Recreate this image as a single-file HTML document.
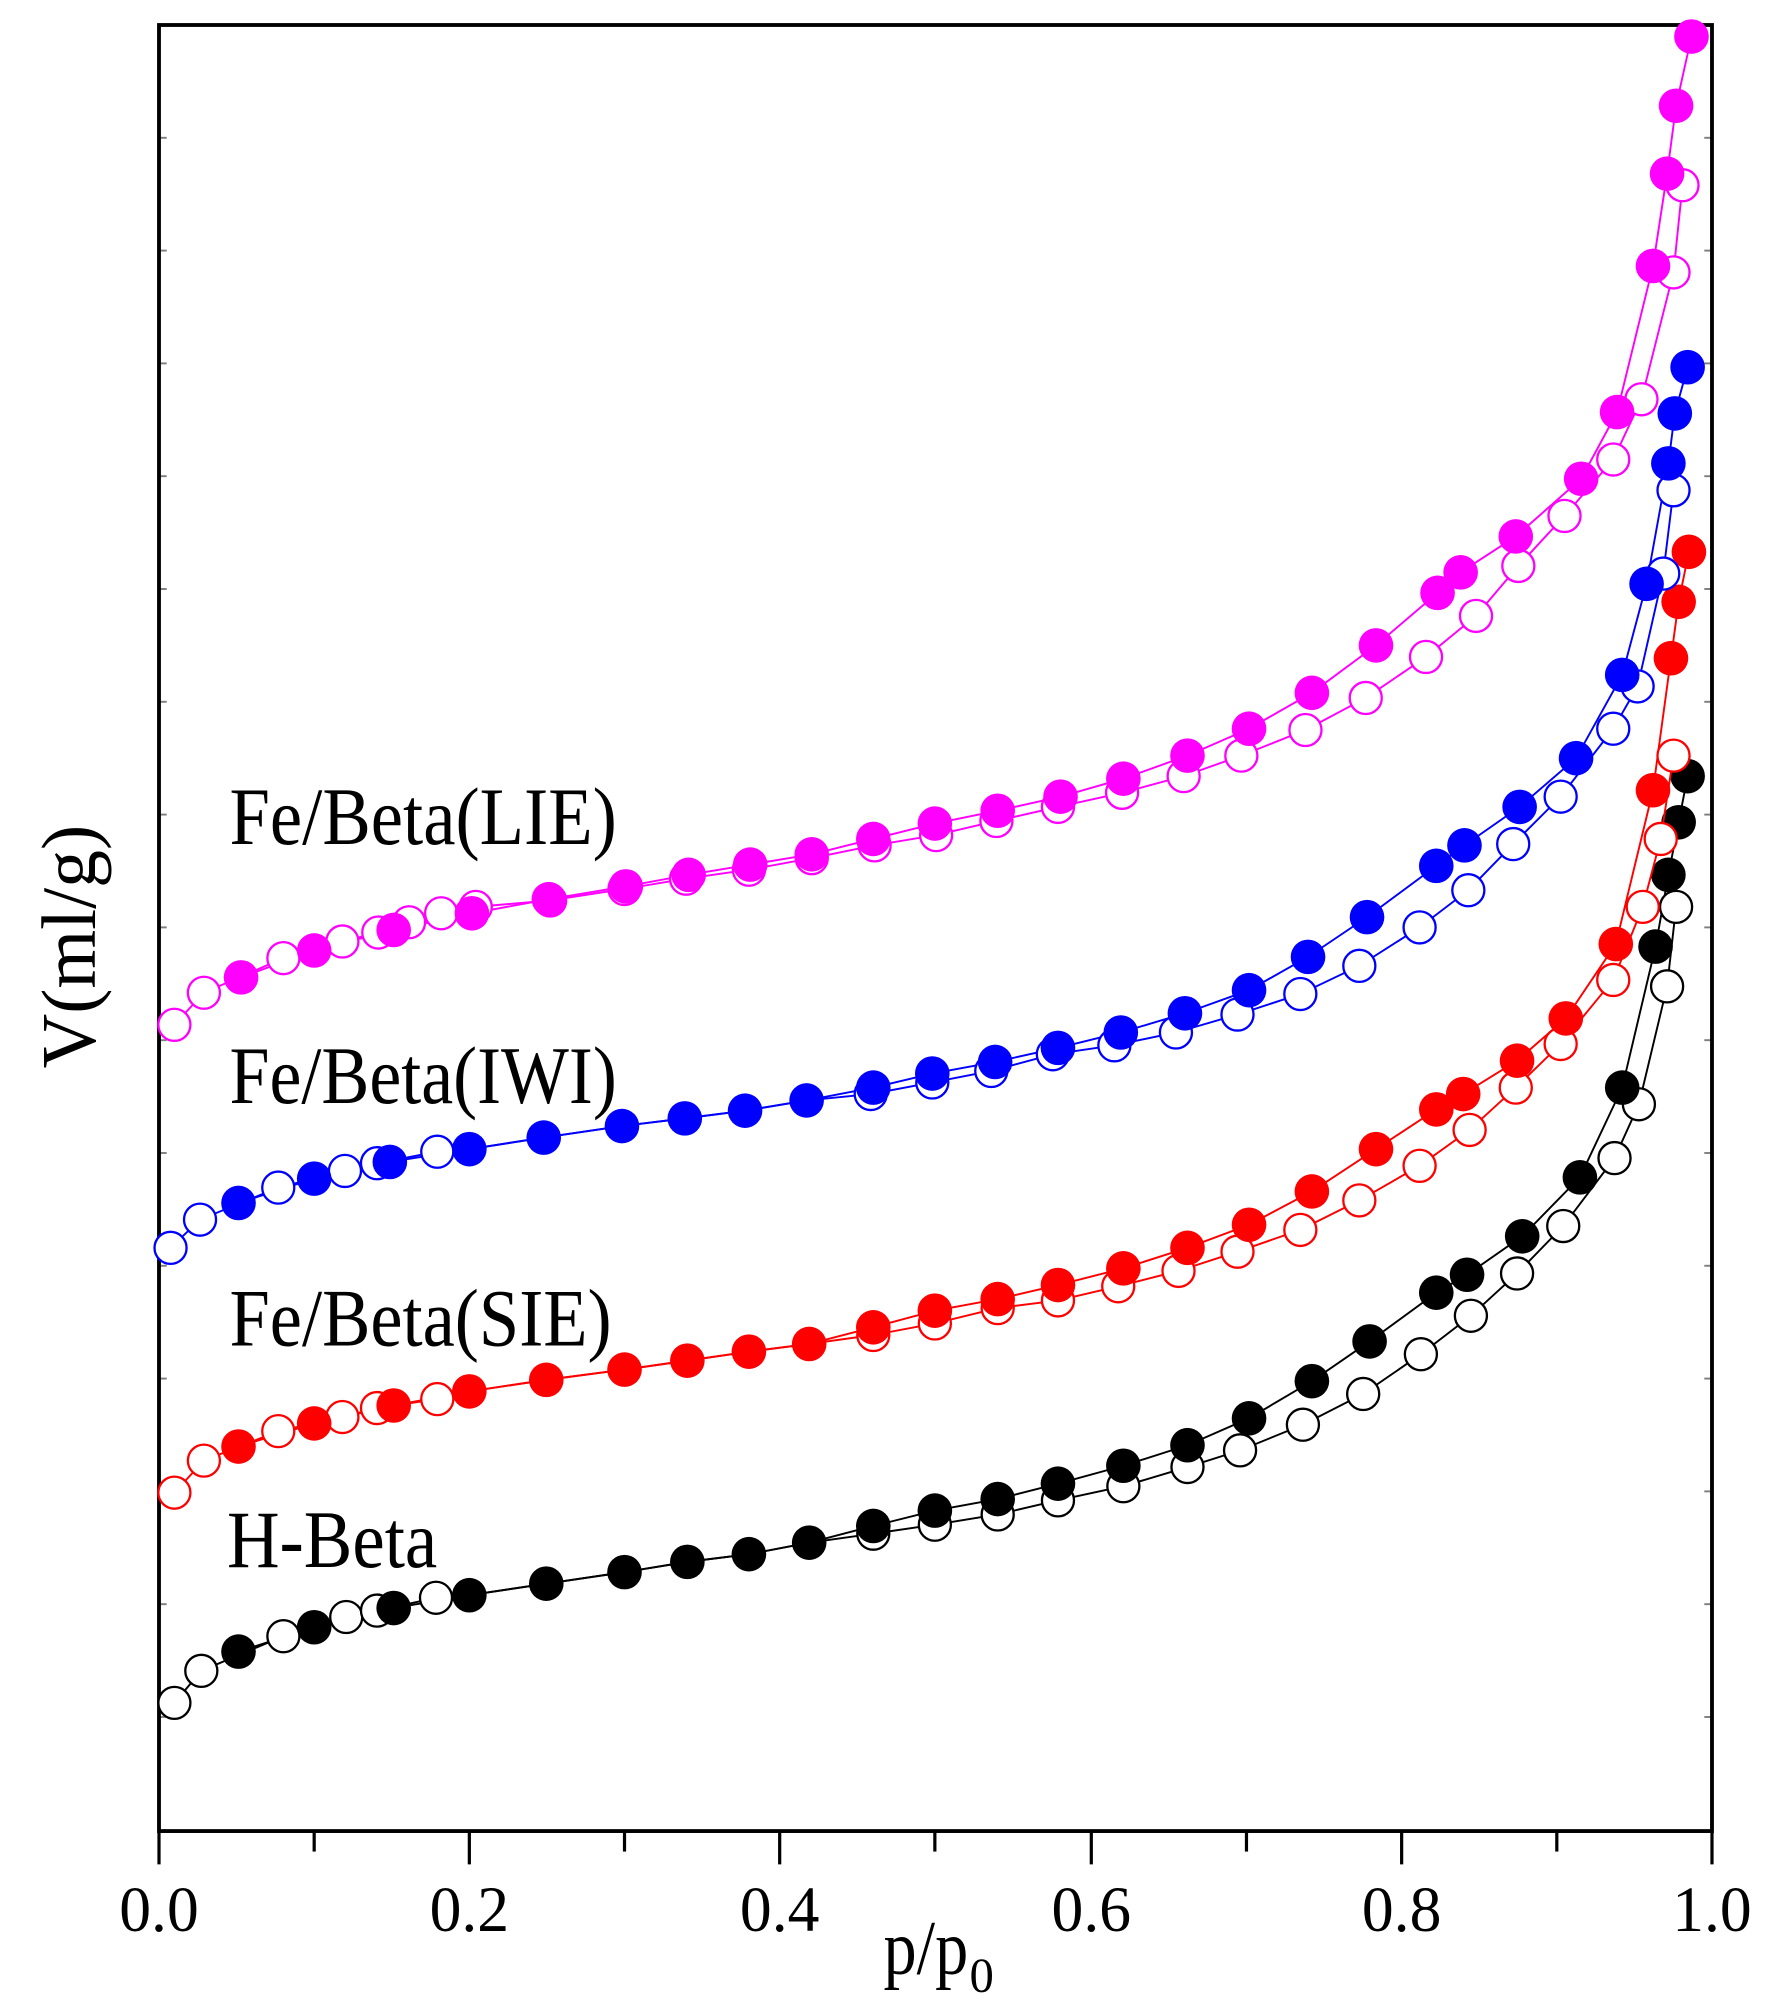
<!DOCTYPE html>
<html><head><meta charset="utf-8"><style>html,body{margin:0;padding:0;background:#fff}svg{display:block}</style></head>
<body>
<svg width="1768" height="2010" viewBox="0 0 1768 2010" xmlns="http://www.w3.org/2000/svg">
<g transform="translate(159,25) scale(1.2824,1.2818) translate(-125,-18)" font-family="'Liberation Serif',serif">
<rect x="125" y="18" width="1211" height="1409" fill="none" stroke="#000" stroke-width="3"/>
<g stroke="#000" stroke-width="2.5">
<line x1="125" y1="1427" x2="125" y2="1453"/><line x1="367" y1="1427" x2="367" y2="1453"/><line x1="609" y1="1427" x2="609" y2="1453"/><line x1="852" y1="1427" x2="852" y2="1453"/><line x1="1094" y1="1427" x2="1094" y2="1453"/><line x1="1336" y1="1427" x2="1336" y2="1453"/>
<line x1="246" y1="1427" x2="246" y2="1443"/><line x1="488" y1="1427" x2="488" y2="1443"/><line x1="730" y1="1427" x2="730" y2="1443"/><line x1="973" y1="1427" x2="973" y2="1443"/><line x1="1215" y1="1427" x2="1215" y2="1443"/>
</g>
<g stroke="#000" stroke-width="1.5" opacity="0.5">
<line x1="1336" y1="106" x2="1330" y2="106"/><line x1="1336" y1="194" x2="1330" y2="194"/><line x1="1336" y1="282" x2="1330" y2="282"/><line x1="1336" y1="370" x2="1330" y2="370"/><line x1="1336" y1="458" x2="1330" y2="458"/><line x1="1336" y1="546" x2="1330" y2="546"/><line x1="1336" y1="634" x2="1330" y2="634"/><line x1="1336" y1="722" x2="1330" y2="722"/><line x1="1336" y1="810" x2="1330" y2="810"/><line x1="1336" y1="898" x2="1330" y2="898"/><line x1="1336" y1="986" x2="1330" y2="986"/><line x1="1336" y1="1074" x2="1330" y2="1074"/><line x1="1336" y1="1162" x2="1330" y2="1162"/><line x1="1336" y1="1250" x2="1330" y2="1250"/><line x1="1336" y1="1338" x2="1330" y2="1338"/>
<line x1="125" y1="106" x2="131" y2="106"/><line x1="125" y1="194" x2="131" y2="194"/><line x1="125" y1="282" x2="131" y2="282"/><line x1="125" y1="370" x2="131" y2="370"/><line x1="125" y1="458" x2="131" y2="458"/><line x1="125" y1="546" x2="131" y2="546"/><line x1="125" y1="634" x2="131" y2="634"/><line x1="125" y1="722" x2="131" y2="722"/><line x1="125" y1="810" x2="131" y2="810"/><line x1="125" y1="898" x2="131" y2="898"/><line x1="125" y1="986" x2="131" y2="986"/><line x1="125" y1="1074" x2="131" y2="1074"/><line x1="125" y1="1162" x2="131" y2="1162"/><line x1="125" y1="1250" x2="131" y2="1250"/><line x1="125" y1="1338" x2="131" y2="1338"/>
</g>
<g font-size="50" text-anchor="middle" fill="#000">
<text x="125" y="1505" textLength="62" lengthAdjust="spacingAndGlyphs">0.0</text>
<text x="367" y="1505" textLength="62" lengthAdjust="spacingAndGlyphs">0.2</text>
<text x="609" y="1505" textLength="62" lengthAdjust="spacingAndGlyphs">0.4</text>
<text x="852" y="1505" textLength="62" lengthAdjust="spacingAndGlyphs">0.6</text>
<text x="1094" y="1505" textLength="62" lengthAdjust="spacingAndGlyphs">0.8</text>
<text x="1336" y="1505" textLength="62" lengthAdjust="spacingAndGlyphs">1.0</text>
</g>
<text x="690" y="1538" font-size="60" fill="#000" textLength="66" lengthAdjust="spacingAndGlyphs">p/p</text>
<text x="757" y="1552" font-size="38" fill="#000">0</text>
<text transform="translate(75,737) rotate(-90)" font-size="60" text-anchor="middle" fill="#000" textLength="190" lengthAdjust="spacingAndGlyphs">V(ml/g)</text>
<g font-size="64" fill="#000">
<text x="180" y="657" textLength="302" lengthAdjust="spacingAndGlyphs">Fe/Beta(LIE)</text>
<text x="180" y="859" textLength="302" lengthAdjust="spacingAndGlyphs">Fe/Beta(IWI)</text>
<text x="180" y="1048" textLength="298" lengthAdjust="spacingAndGlyphs">Fe/Beta(SIE)</text>
<text x="178" y="1221" textLength="164" lengthAdjust="spacingAndGlyphs">H-Beta</text>
</g>

<g stroke="#000" stroke-width="1.5" fill="none">
<polyline points="137,1327 158,1302 222,1275 271,1260 295,1255 341,1245 367,1243 427,1234 488,1225 537,1217 585,1211 632,1202 682,1195 730,1188 779,1180 826,1169 877,1158 927,1143 968,1130 1017,1110 1064,1086 1109,1055 1148,1025 1184,992 1220,955 1260,902 1279,860 1301,768 1308,706"/>
<polyline points="187,1287 246,1268 308,1253 367,1243 427,1234 488,1225 537,1217 585,1211 632,1202 682,1189 730,1177 779,1168 826,1156 877,1142 927,1126 975,1105 1024,1076 1069,1045 1121,1007 1145,993 1188,963 1233,917 1266,847 1292,737 1302,681 1310,640 1317,604"/>
</g>
<g stroke="#000" stroke-width="1.8" fill="#fff">
<circle cx="137" cy="1327" r="12.5"/><circle cx="158" cy="1302" r="12.5"/><circle cx="222" cy="1275" r="12.5"/><circle cx="271" cy="1260" r="12.5"/><circle cx="295" cy="1255" r="12.5"/><circle cx="341" cy="1245" r="12.5"/><circle cx="682" cy="1195" r="12.5"/><circle cx="730" cy="1188" r="12.5"/><circle cx="779" cy="1180" r="12.5"/><circle cx="826" cy="1169" r="12.5"/><circle cx="877" cy="1158" r="12.5"/><circle cx="927" cy="1143" r="12.5"/><circle cx="968" cy="1130" r="12.5"/><circle cx="1017" cy="1110" r="12.5"/><circle cx="1064" cy="1086" r="12.5"/><circle cx="1109" cy="1055" r="12.5"/><circle cx="1148" cy="1025" r="12.5"/><circle cx="1184" cy="992" r="12.5"/><circle cx="1220" cy="955" r="12.5"/><circle cx="1260" cy="902" r="12.5"/><circle cx="1279" cy="860" r="12.5"/><circle cx="1301" cy="768" r="12.5"/><circle cx="1308" cy="706" r="12.5"/>
</g>
<g fill="#000">
<circle cx="187" cy="1287" r="13.5"/><circle cx="246" cy="1268" r="13.5"/><circle cx="308" cy="1253" r="13.5"/><circle cx="367" cy="1243" r="13.5"/><circle cx="427" cy="1234" r="13.5"/><circle cx="488" cy="1225" r="13.5"/><circle cx="537" cy="1217" r="13.5"/><circle cx="585" cy="1211" r="13.5"/><circle cx="632" cy="1202" r="13.5"/><circle cx="682" cy="1189" r="13.5"/><circle cx="730" cy="1177" r="13.5"/><circle cx="779" cy="1168" r="13.5"/><circle cx="826" cy="1156" r="13.5"/><circle cx="877" cy="1142" r="13.5"/><circle cx="927" cy="1126" r="13.5"/><circle cx="975" cy="1105" r="13.5"/><circle cx="1024" cy="1076" r="13.5"/><circle cx="1069" cy="1045" r="13.5"/><circle cx="1121" cy="1007" r="13.5"/><circle cx="1145" cy="993" r="13.5"/><circle cx="1188" cy="963" r="13.5"/><circle cx="1233" cy="917" r="13.5"/><circle cx="1266" cy="847" r="13.5"/><circle cx="1292" cy="737" r="13.5"/><circle cx="1302" cy="681" r="13.5"/><circle cx="1310" cy="640" r="13.5"/><circle cx="1317" cy="604" r="13.5"/>
</g>

<g stroke="#ff0000" stroke-width="1.5" fill="none">
<polyline points="137,1163 160,1138 218,1115 268,1104 295,1097 342,1090 367,1084 427,1075 488,1067 537,1060 585,1053 632,1047 682,1040 730,1031 779,1019 826,1013 873,1002 920,990 966,975 1015,958 1061,935 1108,908 1147,880 1183,847 1218,813 1259,763 1282,706 1296,653 1306,588"/>
<polyline points="187,1127 246,1109 308,1095 367,1084 427,1075 488,1067 537,1060 585,1053 632,1047 682,1034 730,1021 779,1012 826,1001 877,988 927,972 975,954 1024,928 1074,895 1121,864 1142,852 1184,826 1222,793 1261,735 1290,615 1304,512 1310,468 1318,429"/>
</g>
<g stroke="#ff0000" stroke-width="1.8" fill="#fff">
<circle cx="137" cy="1163" r="12.5"/><circle cx="160" cy="1138" r="12.5"/><circle cx="218" cy="1115" r="12.5"/><circle cx="268" cy="1104" r="12.5"/><circle cx="295" cy="1097" r="12.5"/><circle cx="342" cy="1090" r="12.5"/><circle cx="682" cy="1040" r="12.5"/><circle cx="730" cy="1031" r="12.5"/><circle cx="779" cy="1019" r="12.5"/><circle cx="826" cy="1013" r="12.5"/><circle cx="873" cy="1002" r="12.5"/><circle cx="920" cy="990" r="12.5"/><circle cx="966" cy="975" r="12.5"/><circle cx="1015" cy="958" r="12.5"/><circle cx="1061" cy="935" r="12.5"/><circle cx="1108" cy="908" r="12.5"/><circle cx="1147" cy="880" r="12.5"/><circle cx="1183" cy="847" r="12.5"/><circle cx="1218" cy="813" r="12.5"/><circle cx="1259" cy="763" r="12.5"/><circle cx="1282" cy="706" r="12.5"/><circle cx="1296" cy="653" r="12.5"/><circle cx="1306" cy="588" r="12.5"/>
</g>
<g fill="#ff0000">
<circle cx="187" cy="1127" r="13.5"/><circle cx="246" cy="1109" r="13.5"/><circle cx="308" cy="1095" r="13.5"/><circle cx="367" cy="1084" r="13.5"/><circle cx="427" cy="1075" r="13.5"/><circle cx="488" cy="1067" r="13.5"/><circle cx="537" cy="1060" r="13.5"/><circle cx="585" cy="1053" r="13.5"/><circle cx="632" cy="1047" r="13.5"/><circle cx="682" cy="1034" r="13.5"/><circle cx="730" cy="1021" r="13.5"/><circle cx="779" cy="1012" r="13.5"/><circle cx="826" cy="1001" r="13.5"/><circle cx="877" cy="988" r="13.5"/><circle cx="927" cy="972" r="13.5"/><circle cx="975" cy="954" r="13.5"/><circle cx="1024" cy="928" r="13.5"/><circle cx="1074" cy="895" r="13.5"/><circle cx="1121" cy="864" r="13.5"/><circle cx="1142" cy="852" r="13.5"/><circle cx="1184" cy="826" r="13.5"/><circle cx="1222" cy="793" r="13.5"/><circle cx="1261" cy="735" r="13.5"/><circle cx="1290" cy="615" r="13.5"/><circle cx="1304" cy="512" r="13.5"/><circle cx="1310" cy="468" r="13.5"/><circle cx="1318" cy="429" r="13.5"/>
</g>

<g stroke="#0000ff" stroke-width="1.5" fill="none">
<polyline points="134,972 157,950 218,925 270,912 295,906 342,897 367,895 425,886 486,877 535,871 582,865 630,857 680,852 728,843 774,834 822,821 870,814 918,804 966,790 1015,774 1061,752 1108,722 1146,693 1181,657 1218,620 1259,567 1278,534 1298,446 1306,381"/>
<polyline points="187,937 246,918 305,905 367,895 425,886 486,877 535,871 582,865 630,857 682,847 728,836 777,827 826,816 875,804 925,789 975,771 1021,745 1067,714 1121,674 1143,658 1186,628 1230,590 1266,525 1285,454 1302,360 1307,321 1317,285"/>
</g>
<g stroke="#0000ff" stroke-width="1.8" fill="#fff">
<circle cx="134" cy="972" r="12.5"/><circle cx="157" cy="950" r="12.5"/><circle cx="218" cy="925" r="12.5"/><circle cx="270" cy="912" r="12.5"/><circle cx="295" cy="906" r="12.5"/><circle cx="342" cy="897" r="12.5"/><circle cx="680" cy="852" r="12.5"/><circle cx="728" cy="843" r="12.5"/><circle cx="774" cy="834" r="12.5"/><circle cx="822" cy="821" r="12.5"/><circle cx="870" cy="814" r="12.5"/><circle cx="918" cy="804" r="12.5"/><circle cx="966" cy="790" r="12.5"/><circle cx="1015" cy="774" r="12.5"/><circle cx="1061" cy="752" r="12.5"/><circle cx="1108" cy="722" r="12.5"/><circle cx="1146" cy="693" r="12.5"/><circle cx="1181" cy="657" r="12.5"/><circle cx="1218" cy="620" r="12.5"/><circle cx="1259" cy="567" r="12.5"/><circle cx="1278" cy="534" r="12.5"/><circle cx="1298" cy="446" r="12.5"/><circle cx="1306" cy="381" r="12.5"/>
</g>
<g fill="#0000ff">
<circle cx="187" cy="937" r="13.5"/><circle cx="246" cy="918" r="13.5"/><circle cx="305" cy="905" r="13.5"/><circle cx="367" cy="895" r="13.5"/><circle cx="425" cy="886" r="13.5"/><circle cx="486" cy="877" r="13.5"/><circle cx="535" cy="871" r="13.5"/><circle cx="582" cy="865" r="13.5"/><circle cx="630" cy="857" r="13.5"/><circle cx="682" cy="847" r="13.5"/><circle cx="728" cy="836" r="13.5"/><circle cx="777" cy="827" r="13.5"/><circle cx="826" cy="816" r="13.5"/><circle cx="875" cy="804" r="13.5"/><circle cx="925" cy="789" r="13.5"/><circle cx="975" cy="771" r="13.5"/><circle cx="1021" cy="745" r="13.5"/><circle cx="1067" cy="714" r="13.5"/><circle cx="1121" cy="674" r="13.5"/><circle cx="1143" cy="658" r="13.5"/><circle cx="1186" cy="628" r="13.5"/><circle cx="1230" cy="590" r="13.5"/><circle cx="1266" cy="525" r="13.5"/><circle cx="1285" cy="454" r="13.5"/><circle cx="1302" cy="360" r="13.5"/><circle cx="1307" cy="321" r="13.5"/><circle cx="1317" cy="285" r="13.5"/>
</g>

<g stroke="#ff00ff" stroke-width="1.5" fill="none">
<polyline points="137,798 160,773 222,746 268,733 296,726 320,718 345,711 372,706 430,701 488,692 536,684 585,677 634,668 683,658 731,650 778,639 826,628 876,617 924,604 969,588 1019,568 1066,543 1113,511 1152,479 1185,440 1221,401 1259,357 1281,310 1306,211 1313,143"/>
<polyline points="189,761 246,740 308,724 369,711 429,700 489,690 538,681 586,673 634,665 682,653 730,641 779,631 828,620 877,606 927,588 975,567 1024,539 1074,502 1122,461 1140,445 1183,417 1234,372 1262,320 1290,206 1301,134 1308,81 1320,27"/>
</g>
<g stroke="#ff00ff" stroke-width="1.8" fill="#fff">
<circle cx="137" cy="798" r="12.5"/><circle cx="160" cy="773" r="12.5"/><circle cx="222" cy="746" r="12.5"/><circle cx="268" cy="733" r="12.5"/><circle cx="296" cy="726" r="12.5"/><circle cx="320" cy="718" r="12.5"/><circle cx="345" cy="711" r="12.5"/><circle cx="372" cy="706" r="12.5"/><circle cx="430" cy="701" r="12.5"/><circle cx="488" cy="692" r="12.5"/><circle cx="536" cy="684" r="12.5"/><circle cx="585" cy="677" r="12.5"/><circle cx="634" cy="668" r="12.5"/><circle cx="683" cy="658" r="12.5"/><circle cx="731" cy="650" r="12.5"/><circle cx="778" cy="639" r="12.5"/><circle cx="826" cy="628" r="12.5"/><circle cx="876" cy="617" r="12.5"/><circle cx="924" cy="604" r="12.5"/><circle cx="969" cy="588" r="12.5"/><circle cx="1019" cy="568" r="12.5"/><circle cx="1066" cy="543" r="12.5"/><circle cx="1113" cy="511" r="12.5"/><circle cx="1152" cy="479" r="12.5"/><circle cx="1185" cy="440" r="12.5"/><circle cx="1221" cy="401" r="12.5"/><circle cx="1259" cy="357" r="12.5"/><circle cx="1281" cy="310" r="12.5"/><circle cx="1306" cy="211" r="12.5"/><circle cx="1313" cy="143" r="12.5"/>
</g>
<g fill="#ff00ff">
<circle cx="189" cy="761" r="13.5"/><circle cx="246" cy="740" r="13.5"/><circle cx="308" cy="724" r="13.5"/><circle cx="369" cy="711" r="13.5"/><circle cx="429" cy="700" r="13.5"/><circle cx="489" cy="690" r="13.5"/><circle cx="538" cy="681" r="13.5"/><circle cx="586" cy="673" r="13.5"/><circle cx="634" cy="665" r="13.5"/><circle cx="682" cy="653" r="13.5"/><circle cx="730" cy="641" r="13.5"/><circle cx="779" cy="631" r="13.5"/><circle cx="828" cy="620" r="13.5"/><circle cx="877" cy="606" r="13.5"/><circle cx="927" cy="588" r="13.5"/><circle cx="975" cy="567" r="13.5"/><circle cx="1024" cy="539" r="13.5"/><circle cx="1074" cy="502" r="13.5"/><circle cx="1122" cy="461" r="13.5"/><circle cx="1140" cy="445" r="13.5"/><circle cx="1183" cy="417" r="13.5"/><circle cx="1234" cy="372" r="13.5"/><circle cx="1262" cy="320" r="13.5"/><circle cx="1290" cy="206" r="13.5"/><circle cx="1301" cy="134" r="13.5"/><circle cx="1308" cy="81" r="13.5"/><circle cx="1320" cy="27" r="13.5"/>
</g>
</g>
</svg>
</body></html>
